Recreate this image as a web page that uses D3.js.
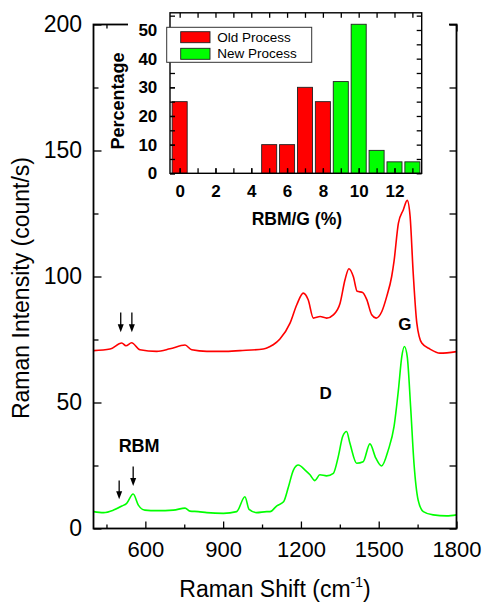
<!DOCTYPE html>
<html>
<head>
<meta charset="utf-8">
<script src="https://cdn.jsdelivr.net/npm/d3@7"></script>
<style>
body { margin:0; background:#fff; }
svg { font-family: Arial, "Liberation Sans", sans-serif; }
.tick line { stroke:#000; stroke-width:1.3; }
.inset .tick text { font-weight:bold; }
</style>
</head>
<body>
<svg id="chart" width="485" height="604"></svg>
<script>
// spectra (Raman shift cm-1, counts/s)
var shiftOld = [400,464,509,525,547,579,644,695,753,779,837,901,965,1055,1081,1093,1119,1158,1184,1209,1228,1248,1274,1299,1325,1351,1370,1385,1402,1417,1438,1454,1473,1490,1512,1531,1550,1559,1576,1595,1610,1621,1633,1647,1666,1698,1736,1800];
var countsOld = [70.6,71.2,73.6,72.5,73.7,70.9,70.3,71.3,72.8,70.9,70.3,70.3,70.6,71.2,72.2,72.9,75.2,81.5,88.8,93.4,90.8,83.5,84.1,83.5,84.8,89.4,98.7,103.1,100,94.1,93.7,90.8,84.8,83.5,86.1,92.1,100,106,121.2,126.5,130.2,123.9,101.4,81.5,73.6,71.2,69.6,70.2];

var shiftNew = [400,439,477,509,528,553,573,598,644,708,753,772,804,837,901,952,984,1000,1029,1068,1081,1107,1133,1152,1171,1190,1216,1235,1254,1273,1299,1325,1344,1361,1376,1389,1415,1440,1466,1489,1511,1537,1559,1576,1589,1599,1610,1623,1636,1652,1672,1710,1762,1800];
var countsNew = [6.7,6.3,7.3,8.9,10,13.7,9.3,7.3,7.1,7.3,8.1,6.9,6.7,6.3,6.0,6.7,12.6,7.6,6.3,6.7,6.7,9.0,10.6,16.6,23.2,25.2,23.2,21.3,19.0,21.3,20.9,21.9,28.5,36.5,38.5,33.8,25.9,26.5,33.6,27.9,24.8,31.2,40.4,55,68.2,72.2,68.2,48.4,25.9,11.3,6.7,5.4,5.0,5.4];

var xMajor = [600,900,1200,1500,1800];
var xMinor = [450,750,1050,1350,1650];
var yMajor = [0,50,100,150,200];
var yMinor = [25,75,125,175];

// RBM arrows: shift, top, bottom
var arrowsOld = [[505,85.7,77.9],[548,85.7,77.9]];
var arrowsNew = [[499,19.0,11.6],[553,24.6,16.9]];
var peakNames = ["G","D","RBM"];
var peakShift = [1601,1295,576];
var peakCounts = [78.8,51.4,30.5];

// inset histogram
var ratioBins = [0,1,2,3,4,5,6,7,8,9,10,11,12,13];
var oldProcess = [25,0,0,0,0,10,10,30,25,0,0,0,0,0];
var newProcess = [0,0,0,0,0,0,0,0,0,32,52,8,4,4];
var insetXTicks = [0,2,4,6,8,10,12];
var insetYTicks = [0,10,20,30,40,50];
var legendNames = ["Old Process","New Process"];

var red = "#ff0000", green = "#00ff00";

var svg = d3.select("#chart");
var margins = {left:93.5, right:28.5, top:24.5, bottom:75.5};
var graph = {width:485-margins.left-margins.right, height:604-margins.top-margins.bottom};

var xScale = d3.scaleLinear().domain([400,1800]).range([0,graph.width]);
var yScale = d3.scaleLinear().domain([0,200]).range([graph.height,0]);

var makeTranslateString = function(x,y) { return "translate("+x+","+y+")"; }

var plot = svg.append("g").attr("transform", makeTranslateString(margins.left, margins.top));

// curves
var drawCurve = function(xs, ys, color) {
    var pts = xs.map(function(d,i){ return [d, ys[i]]; });
    var lineGen = d3.line()
        .curve(d3.curveMonotoneX)
        .x(function(d){ return xScale(d[0]); })
        .y(function(d){ return yScale(d[1]); });
    plot.append("path")
        .datum(pts)
        .attr("d", lineGen)
        .attr("fill","none")
        .attr("stroke",color)
        .attr("stroke-width",1.6)
        .attr("stroke-linejoin","round");
}
drawCurve(shiftOld, countsOld, red);
drawCurve(shiftNew, countsNew, green);

// arrows
var drawArrows = function(list) {
    list.forEach(function(a){
        var x = xScale(a[0]), y1 = yScale(a[1]), y2 = yScale(a[2]);
        plot.append("line").attr("x1",x).attr("x2",x).attr("y1",y1).attr("y2",y2-6)
            .attr("stroke","#000").attr("stroke-width",1.3);
        plot.append("path")
            .attr("d","M"+(x-3)+","+(y2-8)+"L"+(x+3)+","+(y2-8)+"L"+x+","+y2+"Z")
            .attr("fill","#000");
    });
}
drawArrows(arrowsOld);
drawArrows(arrowsNew);

peakNames.forEach(function(n,i){
    plot.append("text")
        .text(n)
        .attr("x", xScale(peakShift[i]))
        .attr("y", yScale(peakCounts[i]))
        .attr("text-anchor","middle")
        .attr("font-weight","bold")
        .attr("font-size", n=="RBM" ? 18 : 17);
});

// axes (ticks inside on all four sides)
var addAxis = function(axis, tx, ty) {
    var g = plot.append("g").attr("transform", makeTranslateString(tx,ty)).call(axis);
    g.select(".domain").remove();
    return g;
}
var bottomMajor = addAxis(d3.axisBottom(xScale).tickValues(xMajor).tickFormat(d3.format("d")).tickSize(-7).tickSizeOuter(0).tickPadding(12.5), 0, graph.height);
bottomMajor.selectAll("text").attr("font-size",22).attr("font-family","Arial, 'Liberation Sans', sans-serif");
addAxis(d3.axisBottom(xScale).tickValues(xMinor).tickSize(-4).tickFormat(""), 0, graph.height);
addAxis(d3.axisTop(xScale).tickValues(xMajor).tickSize(-7).tickFormat(""), 0, 0);
addAxis(d3.axisTop(xScale).tickValues(xMinor).tickSize(-4).tickFormat(""), 0, 0);
var leftMajor = addAxis(d3.axisLeft(yScale).tickValues(yMajor).tickFormat(d3.format("d")).tickSize(-8).tickPadding(11.5), 0, 0);
leftMajor.selectAll("text").attr("font-size",23).attr("font-family","Arial, 'Liberation Sans', sans-serif");
addAxis(d3.axisLeft(yScale).tickValues(yMinor).tickSize(-5).tickFormat(""), 0, 0);
addAxis(d3.axisRight(yScale).tickValues(yMajor.concat(yMinor)).tickSize(-7).tickFormat(""), graph.width, 0);

plot.append("rect")
    .attr("width",graph.width).attr("height",graph.height)
    .attr("fill","none").attr("stroke","#000").attr("stroke-width",1.8);

// axis titles
svg.append("text")
    .attr("x", margins.left+graph.width/2)
    .attr("y", 596.5)
    .attr("text-anchor","middle")
    .attr("font-size",23)
    .text("Raman Shift (cm")
    .append("tspan").attr("font-size",14).attr("dy",-10).text("-1")
    .select(function(){ return this.parentNode; })
    .append("tspan").attr("dy",10).text(")");

svg.append("text")
    .attr("transform", makeTranslateString(28.5,288)+" rotate(-90)")
    .attr("text-anchor","middle")
    .attr("font-size",23)
    .text("Raman Intensity (count/s)");

// inset
var inset = {left:170, top:12.8, width:251.7, height:160.5};
// white patch hiding the top frame behind the inset
svg.append("rect").attr("x",128).attr("y",0).attr("width",321).attr("height",34).attr("fill","#fff");

var ix = d3.scaleLinear().domain([-0.54,13.52]).range([0,inset.width]);
var iy = d3.scaleLinear().domain([0,56]).range([inset.height,0]);
var ig = svg.append("g").attr("class","inset").attr("transform", makeTranslateString(inset.left, inset.top));

var barW = ix(0.84)-ix(0);
var drawBars = function(vals, color) {
    ig.selectAll(null)
        .data(ratioBins.filter(function(d,i){ return vals[i]>0; }))
        .enter().append("rect")
        .attr("x", function(d){ return ix(d)-barW/2; })
        .attr("y", function(d){ return iy(vals[d]); })
        .attr("width", barW)
        .attr("height", function(d){ return inset.height-iy(vals[d]); })
        .attr("fill", color)
        .attr("stroke","#222")
        .attr("stroke-width",0.9);
}
drawBars(oldProcess, red);
drawBars(newProcess, green);

var addInsetAxis = function(axis, tx, ty) {
    var g = ig.append("g").attr("transform", makeTranslateString(tx,ty)).call(axis);
    g.select(".domain").remove();
    return g;
}
var ixb = addInsetAxis(d3.axisBottom(ix).tickValues(insetXTicks).tickSize(-5).tickPadding(11.8), 0, inset.height);
ixb.selectAll("text").attr("font-size",17);
addInsetAxis(d3.axisBottom(ix).tickValues(ratioBins).tickSize(-5).tickFormat(""), 0, inset.height);
addInsetAxis(d3.axisTop(ix).tickValues(ratioBins).tickSize(-5).tickFormat(""), 0, 0);
var iyl = addInsetAxis(d3.axisLeft(iy).tickValues(insetYTicks).tickSize(-5).tickPadding(12.7), 0, 0);
iyl.selectAll("text").attr("font-size",17);
var fives = d3.range(0,56,5);
addInsetAxis(d3.axisLeft(iy).tickValues(fives).tickSize(-5).tickFormat(""), 0, 0);
addInsetAxis(d3.axisRight(iy).tickValues(fives).tickSize(-5).tickFormat(""), inset.width, 0);
ig.selectAll(".tick line").attr("stroke-width",1.1);

ig.append("rect").attr("width",inset.width).attr("height",inset.height)
    .attr("fill","none").attr("stroke","#000").attr("stroke-width",1.4);

// legend
var lg = ig.append("g").attr("transform", makeTranslateString(-3.3, 14.5));
lg.append("rect").attr("width",145).attr("height",35).attr("fill","#fff").attr("stroke","#333").attr("stroke-width",1);
legendNames.forEach(function(n,i){
    lg.append("rect").attr("x",14).attr("y",4.4+i*16.6).attr("width",29.3).attr("height",11)
        .attr("fill", i==0 ? red : green).attr("stroke","#222").attr("stroke-width",0.9);
    lg.append("text").attr("x",50.6).attr("y",14.4+i*16.6).attr("font-size",13.5).text(n);
});

// inset titles
ig.append("text")
    .attr("x", inset.width/2+1)
    .attr("y", 225-inset.top)
    .attr("text-anchor","middle")
    .attr("font-size",17.5).attr("font-weight","bold")
    .text("RBM/G (%)");
svg.append("text")
    .attr("transform", makeTranslateString(124,101)+" rotate(-90)")
    .attr("text-anchor","middle")
    .attr("font-size",18).attr("font-weight","bold")
    .text("Percentage");
</script>
</body>
</html>
